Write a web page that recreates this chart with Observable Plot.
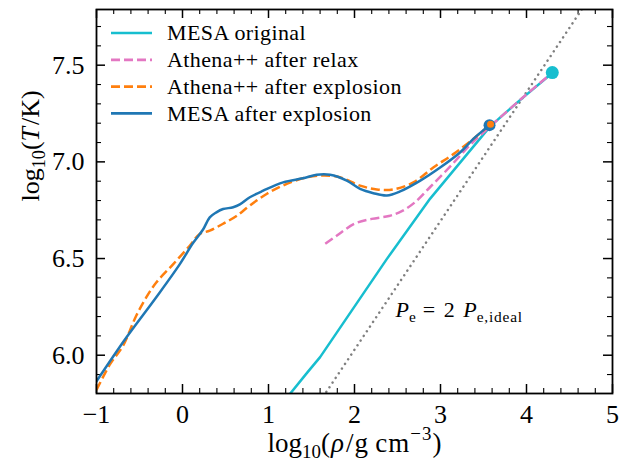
<!DOCTYPE html>
<html>
<head>
<meta charset="utf-8">
<script src="https://cdn.jsdelivr.net/npm/d3@7"></script>
<script src="https://cdn.jsdelivr.net/npm/@observablehq/plot@0.6"></script>
<style>
  html, body { margin: 0; padding: 0; background: white; }
  #wrap { position: relative; width: 628px; height: 466px; }
  #legend { position: absolute; left: 0; top: 0; pointer-events: none; }
  svg, svg text, svg tspan { font-family: 'Liberation Serif', serif !important; }
</style>
</head>
<body>
<div id="wrap"></div>
<script>
// ---- data ----
const mesaOrigX = [1.25, 1.45, 1.60, 2.375, 2.88, 3.58, 3.90, 4.30];
const mesaOrigY = [5.80, 5.91, 5.99, 6.497, 6.81, 7.185, 7.31, 7.46];

const relaxX = [1.66, 1.80, 2.00, 2.20, 2.40, 2.55, 2.70, 2.88, 3.10, 3.35, 3.57, 3.95, 4.27];
const relaxY = [6.576, 6.62, 6.68, 6.705, 6.72, 6.745, 6.79, 6.87, 6.97, 7.09, 7.18, 7.33, 7.45];

const athExpX = [-1.0, -0.84, -0.693, -0.538, -0.42, -0.305, -0.11, 0.084, 0.2, 0.317, 0.472, 0.628, 0.783, 0.978, 1.17, 1.40, 1.636, 1.83, 2.065, 2.26, 2.45, 2.69, 2.92, 3.15, 3.385, 3.57];
const athExpY = [5.82, 5.955, 6.048, 6.204, 6.30, 6.376, 6.47, 6.566, 6.627, 6.644, 6.68, 6.72, 6.774, 6.834, 6.878, 6.915, 6.93, 6.92, 6.877, 6.857, 6.857, 6.895, 6.972, 7.04, 7.12, 7.19];

const mesaExpX = [-1.0, -0.655, -0.305, -0.033, 0.122, 0.239, 0.317, 0.394, 0.472, 0.589, 0.667, 0.783, 0.939, 1.17, 1.40, 1.56, 1.716, 1.91, 2.065, 2.22, 2.376, 2.53, 2.765, 3.0, 3.23, 3.385, 3.57];
const mesaExpY = [5.865, 6.09, 6.30, 6.47, 6.58, 6.65, 6.713, 6.739, 6.756, 6.765, 6.78, 6.817, 6.851, 6.894, 6.915, 6.933, 6.933, 6.903, 6.86, 6.838, 6.826, 6.847, 6.903, 6.972, 7.05, 7.12, 7.19];

const idealX = [1.60, 4.75];
const idealY = [5.762, 7.86];

const endOrig = [{x: 4.30, y: 7.462}];
const endExp = [{x: 3.57, y: 7.19}];

const xMajor = [-1, 0, 1, 2, 3, 4, 5];
const yMajor = [6.0, 6.5, 7.0, 7.5];
const xMinor = d3.range(-1, 5.001, 0.2).map(v => +v.toFixed(1)).filter(v => !xMajor.includes(v));
const yMinor = d3.range(5.9, 7.75, 0.1).map(v => +v.toFixed(1)).filter(v => !yMajor.includes(v));

const seriesNames = ["MESA original", "Athena++ after relax", "Athena++ after explosion", "MESA after explosion"];
const colors = {cyan: "#17becf", pink: "#e377c2", orange: "#ff7f0e", blue: "#1f77b4", gray: "#7f7f7f"};

const zip = (xs, ys) => xs.map((x, i) => ({x, y: ys[i]}));

const W = 628, H = 466, mL = 96, mR = 16, mT = 9, mB = 73;
const fh = H - mT - mB, fw = W - mL - mR;
const FONT = "'Liberation Serif', serif";

const chart = Plot.plot({
  width: W, height: H,
  marginLeft: mL, marginRight: mR, marginTop: mT, marginBottom: mB,
  x: {domain: [-1, 5]},
  y: {domain: [5.802, 7.788]},
  style: {fontFamily: FONT, background: "white", color: "black"},
  marks: [
    // inward ticks on all four sides
    Plot.tickX(xMajor, {x: d => d, insetTop: fh - 9, stroke: "black", strokeWidth: 1.5}),
    Plot.tickX(xMajor, {x: d => d, insetBottom: fh - 9, stroke: "black", strokeWidth: 1.5}),
    Plot.tickX(xMinor, {x: d => d, insetTop: fh - 5, stroke: "black", strokeWidth: 1.1}),
    Plot.tickX(xMinor, {x: d => d, insetBottom: fh - 5, stroke: "black", strokeWidth: 1.1}),
    Plot.tickY(yMajor, {y: d => d, insetRight: fw - 9, stroke: "black", strokeWidth: 1.5}),
    Plot.tickY(yMajor, {y: d => d, insetLeft: fw - 9, stroke: "black", strokeWidth: 1.5}),
    Plot.tickY(yMinor, {y: d => d, insetRight: fw - 5, stroke: "black", strokeWidth: 1.1}),
    Plot.tickY(yMinor, {y: d => d, insetLeft: fw - 5, stroke: "black", strokeWidth: 1.1}),
    Plot.axisX({ticks: xMajor, tickSize: 0, tickPadding: 11, fontSize: 26, label: null,
      tickFormat: d => d < 0 ? "\u2212" + Math.abs(d) : String(d)}),
    Plot.axisY({ticks: yMajor, tickSize: 0, tickPadding: 12, fontSize: 26, label: null,
      tickFormat: d3.format(".1f")}),
    // data
    Plot.line(zip(idealX, idealY), {x: "x", y: "y", stroke: colors.gray, strokeWidth: 2.5,
      strokeDasharray: "0.01,5.6", strokeLinecap: "round", clip: true}),
    Plot.line(zip(mesaOrigX, mesaOrigY), {x: "x", y: "y", stroke: colors.cyan, strokeWidth: 2.5, clip: true}),
    Plot.line(zip(relaxX, relaxY), {x: "x", y: "y", stroke: colors.pink, strokeWidth: 2.5,
      strokeDasharray: "9,4", strokeLinecap: "butt", curve: "catmull-rom", clip: true}),
    Plot.line(zip(athExpX, athExpY), {x: "x", y: "y", stroke: colors.orange, strokeWidth: 2.5,
      strokeDasharray: "9,4", strokeLinecap: "butt", curve: "catmull-rom", clip: true}),
    Plot.line(zip(mesaExpX, mesaExpY), {x: "x", y: "y", stroke: colors.blue, strokeWidth: 2.5,
      curve: "catmull-rom", clip: true}),
    Plot.dot(endOrig, {x: "x", y: "y", r: 6.5, fill: colors.cyan}),
    Plot.dot(endExp, {x: "x", y: "y", r: 6, fill: colors.blue}),
    Plot.dot(endExp, {x: "x", y: "y", r: 3.5, fill: colors.orange, dx: 1, dy: -1}),
    Plot.frame({stroke: "black", strokeWidth: 1.8}),
    // annotation and axis labels
    Plot.text(["ANNOT"], {x: () => 2.477, y: () => 6.235, text: d => d, textAnchor: "start",
      fontSize: 22, fill: "black"}),
    Plot.text(["XLABEL"], {frameAnchor: "bottom", dy: 58, text: d => d, fontSize: 27, fill: "black"}),
    Plot.text(["YLABEL"], {frameAnchor: "left", dx: -66, rotate: -90, text: d => d, fontSize: 26, fill: "black"})
  ]
});

// rich text (subscripts / italics) on the text elements
function rich(el, parts, fs) {
  const t = d3.select(el);
  t.text(null);
  let cur = 0;
  for (const p of parts) {
    const target = p.sub ? 0.24 * fs : p.sup ? -0.42 * fs : 0;
    const s = t.append("tspan").text(p.t);
    if (target !== cur) s.attr("dy", target - cur);
    cur = target;
    if (p.sub || p.sup) s.attr("font-size", (0.7 * fs).toFixed(1));
    if (p.i) s.attr("font-style", "italic");
    if (p.ls) s.attr("letter-spacing", p.ls);
  }
}
d3.select(chart).selectAll("text").each(function () {
  const s = this.textContent;
  if (s === "XLABEL") rich(this, [{t: "log"}, {t: "10", sub: true}, {t: "(", ls: 1}, {t: "ρ", i: true, ls: 2}, {t: "/g\u2009cm", ls: 1}, {t: "\u22123", sup: true, ls: 1}, {t: ")"}], 27);
  if (s === "YLABEL") rich(this, [{t: "log"}, {t: "10", sub: true}, {t: "("}, {t: "T", i: true, ls: 2}, {t: "/K)"}], 26);
  if (s === "ANNOT") rich(this, [{t: "P", i: true}, {t: "e", sub: true}, {t: " = 2 ", ls: 1.5}, {t: "P", i: true}, {t: "e,ideal", sub: true, ls: 0.8}], 22);
});

const wrap = document.getElementById("wrap");
wrap.appendChild(chart);

// legend overlay
const leg = d3.select(wrap).append("svg").attr("id", "legend").attr("width", W).attr("height", H);
const legStyles = [
  {c: colors.cyan, dash: null},
  {c: colors.pink, dash: "9,4"},
  {c: colors.orange, dash: "9,4"},
  {c: colors.blue, dash: null}
];
seriesNames.forEach((name, i) => {
  const y = 33 + i * 26.8;
  leg.append("line").attr("x1", 111).attr("x2", 152).attr("y1", y).attr("y2", y)
    .attr("stroke", legStyles[i].c).attr("stroke-width", 2.7)
    .attr("stroke-dasharray", legStyles[i].dash);
  leg.append("text").attr("x", 167).attr("y", y).attr("dy", "0.33em")
    .attr("font-family", FONT).attr("font-size", 22).attr("letter-spacing", 0.4)
    .attr("fill", "black").text(name);
});
</script>
</body>
</html>
